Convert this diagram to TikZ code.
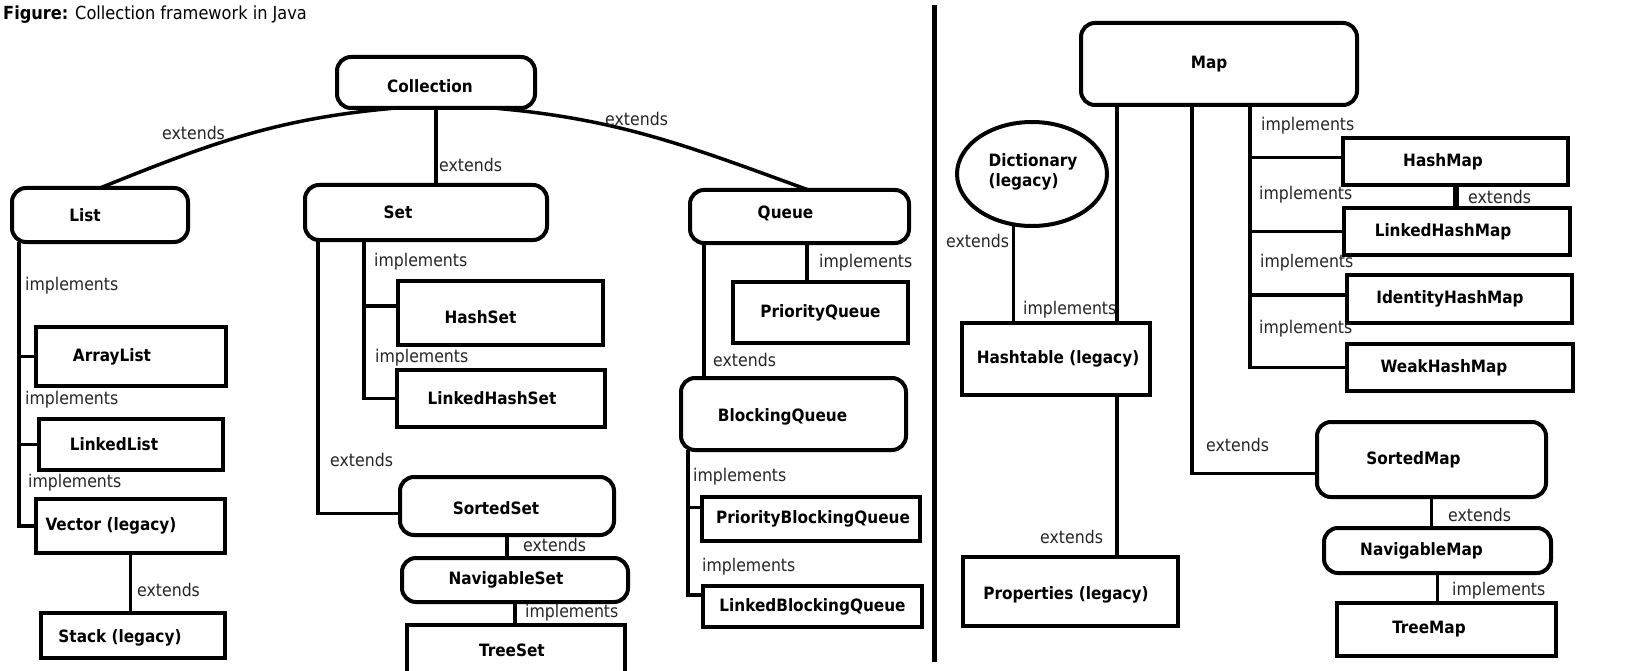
\documentclass[tikz,border=0pt]{standalone}
\usepackage{fontspec}
\setmainfont{DejaVu Sans Condensed}[BoldFont={DejaVu Sans Condensed Bold}]
\usetikzlibrary{calc,shapes.geometric}

\tikzset{
  iface/.style={draw, line width=4, rounded corners=14, inner sep=0, outer sep=0},
  cls/.style={draw, line width=4, inner sep=0, outer sep=0},
  conn/.style={line width=3.5},
  rellabel/.style={anchor=west, inner sep=0, font=\fontsize{17.5}{20}\selectfont, text=black!85},
  typename/.style={font=\fontsize{17}{20}\selectfont\bfseries, inner sep=0},
}

\begin{document}
\begin{tikzpicture}[x=1pt, y=-1pt]
\fill[white] (0,0) rectangle (1637,671);
\useasboundingbox (0,0) rectangle (1637,671);

\node[anchor=west, inner sep=0, font=\fontsize{18}{21}\selectfont] (title) at (3,15)
  {\textbf{Figure:} Collection framework in Java};

% ---------- Collection hierarchy ----------
\node[iface, minimum width=198, minimum height=51, label={[typename,xshift=-6,yshift=-4]center:Collection}] (coll) at (436,82.5) {};

\node[iface, minimum width=176, minimum height=54, label={[typename,xshift=-15]center:List}] (list) at (100,215) {};
\node[iface, minimum width=242, minimum height=55, label={[typename,xshift=-28]center:Set}] (set) at (426,212.5) {};
\node[iface, minimum width=219, minimum height=53, label={[typename,xshift=-14,yshift=3]center:Queue}] (queue) at (799.5,216.5) {};

\draw[conn] (list.north) to[out=22,in=185] ($(coll.south)+(-40,0)$);
\draw[conn] (coll.south) -- (coll.south |- set.north);
\draw[conn] ($(coll.south)+(57,0)$) to[out=-5,in=160] ($(queue.north)+(9,0)$);
\node[rellabel] at (162,133) {extends};
\node[rellabel] at (439,165) {extends};
\node[rellabel] at (605,119) {extends};

% List branch
\node[cls, minimum width=190, minimum height=59, label={[typename,xshift=-19]center:ArrayList}] (arraylist) at (131,356.5) {};
\node[cls, minimum width=184, minimum height=51, label={[typename,xshift=-17]center:LinkedList}] (linkedlist) at (131,444.5) {};
\node[cls, minimum width=189, minimum height=54, label={[typename,xshift=-19.5]center:Vector (legacy)}] (vector) at (130.5,526) {};
\node[cls, minimum width=184, minimum height=45, label={[typename,xshift=-13,yshift=-2]center:Stack (legacy)}] (stack) at (133,635.5) {};

\coordinate (lsp) at (19,242);
\draw[conn] (lsp) |- (vector.west);
\draw[conn] (lsp |- arraylist.west) -- (arraylist.west);
\draw[conn] (lsp |- linkedlist.west) -- (linkedlist.west);
\draw[conn] (vector.south) -- (vector.south |- stack.north);
\node[rellabel] at (25,286) {implements};
\node[rellabel] at (25,400) {implements};
\node[rellabel] at (28,483) {implements};
\node[rellabel] at (137,590) {extends};

% Set branch
\node[cls, minimum width=205, minimum height=64, label={[typename,xshift=-20,yshift=-4]center:HashSet}] (hashset) at (500.5,313) {};
\node[cls, minimum width=208, minimum height=57, label={[typename,xshift=-9]center:LinkedHashSet}] (lhashset) at (501,398.5) {};
\node[iface, minimum width=214, minimum height=58, label={[typename,xshift=-11,yshift=-2]center:SortedSet}] (sortedset) at (507,506) {};
\node[iface, minimum width=226, minimum height=44, label={[typename,xshift=-9]center:NavigableSet}] (navset) at (515,580) {};
\node[cls, minimum width=218, minimum height=56, label={[typename,xshift=-4,yshift=3]center:TreeSet}] (treeset) at (516,653) {};

\coordinate (ssp) at (318,240);
\coordinate (isp) at (364,240);
\draw[conn] (ssp) |- (sortedset.184);
\draw[conn] (isp) |- (lhashset.west);
\draw[conn] (isp |- hashset.176) -- (hashset.176);
\draw[conn] (sortedset.south) -- (sortedset.south |- navset.north);
\draw[conn] (navset.south) -- (navset.south |- treeset.north);
\node[rellabel] at (374,262) {implements};
\node[rellabel] at (375,358) {implements};
\node[rellabel] at (330,460) {extends};
\node[rellabel] at (523,545) {extends};
\node[rellabel] at (525,613) {implements};

% Queue branch
\node[cls, minimum width=175, minimum height=61, label={[typename]center:PriorityQueue}] (pqueue) at (820.5,312.5) {};
\node[iface, minimum width=225, minimum height=72, label={[typename,xshift=-11,yshift=-3]center:BlockingQueue}] (blockq) at (793.5,414) {};
\node[cls, minimum width=218, minimum height=44, label={[typename,xshift=2]center:PriorityBlockingQueue}] (pbq) at (811,519) {};
\node[cls, minimum width=219, minimum height=41, label={[typename]center:LinkedBlockingQueue}] (lbq) at (812.5,606.5) {};

\coordinate (qsp) at (704,243);
\coordinate (qsp2) at (807,243);
\coordinate (bsp) at (688,450);
\draw[conn] (qsp) -- (qsp |- blockq.north);
\draw[conn] (qsp2) -- (qsp2 |- pqueue.north);
\draw[conn] (bsp) |- (lbq.174);
\draw[conn] (bsp |- pbq.174) -- (pbq.174);
\node[rellabel] at (819,263) {implements};
\node[rellabel] at (713,360) {extends};
\node[rellabel] at (693,477) {implements};
\node[rellabel] at (702,567) {implements};

% divider
\draw[line width=5] (934,5) -- (934,662);

% ---------- Map hierarchy ----------
\node[iface, minimum width=276, minimum height=82, label={[typename,xshift=-10]center:Map}] (map) at (1219,64) {};

\node[ellipse, draw, line width=4, inner sep=0, outer sep=0, minimum width=150, minimum height=104] (dict) at (1032,174) {};
\node[typename, align=left] (dicttext) at (1033,172) {Dictionary\\(legacy)};

\node[cls, minimum width=188, minimum height=72, label={[typename,xshift=2]center:Hashtable (legacy)}] (hashtable) at (1056,359) {};
\node[cls, minimum width=215, minimum height=69, label={[typename,xshift=-4.5,yshift=-3]center:Properties (legacy)}] (props) at (1070.5,591.5) {};

\node[cls, minimum width=225, minimum height=47, label={[typename,xshift=-12.5]center:HashMap}] (hashmap) at (1455.5,161.5) {};
\node[cls, minimum width=226, minimum height=47, label={[typename,xshift=-14]center:LinkedHashMap}] (lhashmap) at (1457,231.5) {};
\node[cls, minimum width=225, minimum height=48, label={[typename,xshift=-9.5]center:IdentityHashMap}] (idhashmap) at (1459.5,299) {};
\node[cls, minimum width=226, minimum height=47, label={[typename,xshift=-16]center:WeakHashMap}] (weakhashmap) at (1460,367.5) {};

\node[iface, minimum width=229, minimum height=75, label={[typename,xshift=-18]center:SortedMap}] (sortedmap) at (1431.5,459.5) {};
\node[iface, minimum width=227, minimum height=45, label={[typename,xshift=-16]center:NavigableMap}] (navmap) at (1437.5,550.5) {};
\node[cls, minimum width=219, minimum height=53, label={[typename,xshift=-17.5]center:TreeMap}] (treemap) at (1446.5,629.5) {};

\coordinate (msp1) at (1117,105);
\coordinate (msp2) at (1192,105);
\coordinate (msp3) at (1250,105);
\draw[conn] (msp1) -- (msp1 |- hashtable.north);
\draw[conn] (msp2) |- (sortedmap.187);
\draw[conn] (msp3) |- (weakhashmap.west);
\draw[conn] (msp3 |- hashmap.178) -- (hashmap.178);
\draw[conn] (msp3 |- lhashmap.west) -- (lhashmap.west);
\draw[conn] (msp3 |- idhashmap.178) -- (idhashmap.178);
\draw[conn] (dict.250) -- (dict.250 |- hashtable.north);
\draw[conn] (hashtable.south -| msp1) -- (props.north -| msp1);
\draw[line width=6] (hashmap.south) -- (hashmap.south |- lhashmap.north);
\draw[conn] (sortedmap.south) -- (sortedmap.south |- navmap.north);
\draw[conn] (navmap.south) -- (navmap.south |- treemap.north);

\node[rellabel] at (946,241) {extends};
\node[rellabel] at (1023,310) {implements};
\node[rellabel] at (1040,537) {extends};
\node[rellabel] at (1206,445) {extends};
\node[rellabel] at (1261,126) {implements};
\node[rellabel] at (1259,195) {implements};
\node[rellabel] at (1260,263) {implements};
\node[rellabel] at (1259,329) {implements};
\node[rellabel] at (1468,197) {extends};
\node[rellabel] at (1448,515) {extends};
\node[rellabel] at (1452,591) {implements};
\end{tikzpicture}
\end{document}
